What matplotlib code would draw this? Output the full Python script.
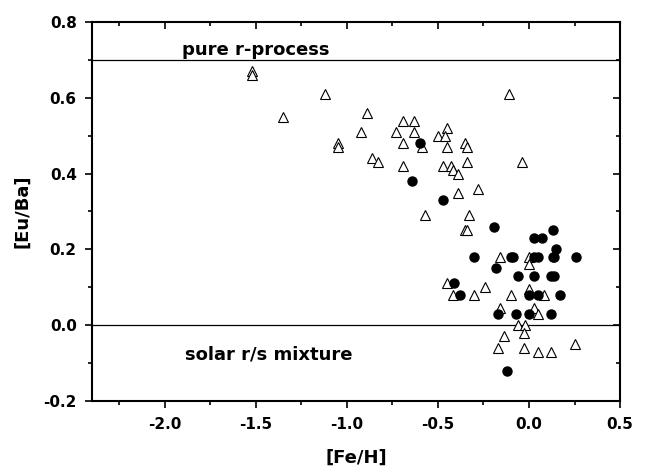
import matplotlib.pyplot as plt
from matplotlib.ticker import MultipleLocator

plt.rcParams['font.family'] = ['DejaVu Sans']
plt.rcParams['font.weight'] = 'bold'

# open triangles
tri_feh = [-1.52, -1.52, -1.12, -1.35, -0.89, -0.69, -0.63, -0.92, -0.73, -0.63,
           -1.05, -1.05, -0.69, -0.59, -0.86, -0.83, -0.69, -0.57, -0.11, -0.45,
           -0.50, -0.46, -0.45, -0.35, -0.34, -0.47, -0.43, -0.42, -0.39, -0.34,
           -0.04, -0.39, -0.28, -0.33, -0.35, -0.34, -0.16, 0.00, 0.00, -0.45,
           -0.24, -0.42, -0.30, -0.10, 0.00, 0.08, -0.16, 0.03, 0.05, -0.06,
           -0.02, -0.03, -0.14, 0.25, -0.17, -0.03, 0.05, 0.12]
tri_euba = [0.67, 0.66, 0.61, 0.55, 0.56, 0.54, 0.54, 0.51, 0.51, 0.51,
            0.48, 0.47, 0.48, 0.47, 0.44, 0.43, 0.42, 0.29, 0.61, 0.52,
            0.50, 0.50, 0.47, 0.48, 0.47, 0.42, 0.42, 0.41, 0.40, 0.43,
            0.43, 0.35, 0.36, 0.29, 0.25, 0.25, 0.18, 0.18, 0.16, 0.11,
            0.10, 0.08, 0.08, 0.08, 0.095, 0.08, 0.045, 0.045, 0.03, 0.00,
            0.00, -0.02, -0.03, -0.05, -0.06, -0.06, -0.07, -0.07]

# filled circles
dot_feh = [-0.60, -0.64, -0.47, -0.19, 0.13, 0.03, 0.07, 0.15,
           -0.30, -0.10, -0.09, 0.03, 0.05, 0.13, 0.14, 0.26,
           -0.18, -0.06, 0.03, 0.12, 0.14, -0.41,
           -0.38, 0.00, 0.05, 0.17, -0.17, -0.07, 0.00, 0.12, -0.12]
dot_euba = [0.48, 0.38, 0.33, 0.26, 0.25, 0.23, 0.23, 0.20,
            0.18, 0.18, 0.18, 0.18, 0.18, 0.18, 0.18, 0.18,
            0.15, 0.13, 0.13, 0.13, 0.13, 0.11,
            0.08, 0.08, 0.08, 0.08, 0.03, 0.03, 0.03, 0.03, -0.12]

fig = plt.figure(figsize=(6.52, 4.71), dpi=100)
ax = fig.add_axes([0.141, 0.149, 0.81, 0.804])

ax.axhline(0.7, color='black', lw=0.9)
ax.axhline(0.0, color='black', lw=0.9)

ax.plot(tri_feh, tri_euba, '^', mfc='white', mec='black', ms=7.5, mew=0.8)
ax.plot(dot_feh, dot_euba, 'o', color='black', ms=6.5)

ax.text(-1.907, 0.713, 'pure r-process', fontsize=13, fontweight='bold')
ax.text(-1.89, -0.092, 'solar r/s mixture', fontsize=13, fontweight='bold')

ax.set_xlim(-2.4, 0.5)
ax.set_ylim(-0.2, 0.8)
ax.xaxis.set_minor_locator(MultipleLocator(0.25))
ax.yaxis.set_minor_locator(MultipleLocator(0.1))
ax.set_xticks([-2.0, -1.5, -1.0, -0.5, 0.0, 0.5])
ax.set_xticklabels(['-2.0', '-1.5', '-1.0', '-0.5', '0.0', '0.5'])
ax.set_yticks([-0.2, 0.0, 0.2, 0.4, 0.6, 0.8])
ax.set_yticklabels(['-0.2', '0.0', '0.2', '0.4', '0.6', '0.8'])

ax.tick_params(which='both', direction='out', labelsize=11, width=1.2,
               top=True, right=True)
ax.tick_params(which='major', length=5)
ax.tick_params(which='minor', length=3)
ax.tick_params(axis='x', pad=7)
ax.tick_params(axis='y', pad=6)
for spine in ax.spines.values():
    spine.set_linewidth(1.5)

ax.set_xlabel('[Fe/H]', fontsize=13, fontweight='bold', labelpad=12)
ax.set_ylabel('[Eu/Ba]', fontsize=13, fontweight='bold', labelpad=9)

# top and right ticks point inward
for t in ax.xaxis.get_major_ticks() + ax.xaxis.get_minor_ticks():
    t.tick2line.set_marker(3)
for t in ax.yaxis.get_major_ticks() + ax.yaxis.get_minor_ticks():
    t.tick2line.set_marker(0)

plt.savefig('out.png', dpi=100)
